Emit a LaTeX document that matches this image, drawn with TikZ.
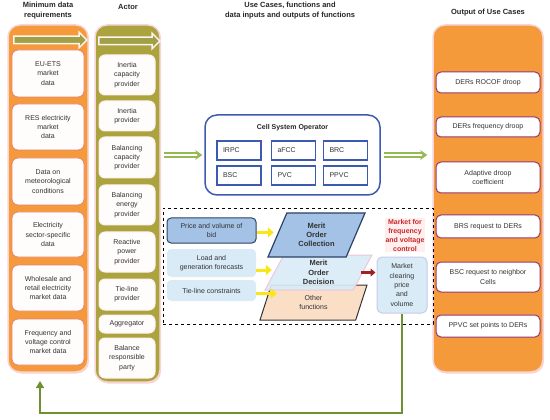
\documentclass[tikz,border=0pt]{standalone}
\usepackage{fontspec}
\setmainfont{Liberation Sans}
\usetikzlibrary{arrows.meta, positioning, shapes.geometric, shapes.arrows, shadows}
\definecolor{laranjaColuna}{RGB}{245,154,58}
\definecolor{oliveColuna}{RGB}{170,163,62}
\definecolor{oliveSeta}{RGB}{160,160,70}
\definecolor{rosaBorda}{RGB}{248,212,214}
\definecolor{rosaCaixa}{RGB}{232,128,118}
\definecolor{magentaCaixa}{RGB}{150,55,110}
\definecolor{azulOperador}{RGB}{60,90,175}
\definecolor{azulEscuro}{RGB}{45,65,100}
\definecolor{azulMedio}{RGB}{163,194,230}
\definecolor{azulClaro}{RGB}{217,235,246}
\definecolor{pessego}{RGB}{250,222,198}
\definecolor{verdeFluxo}{RGB}{150,185,85}
\definecolor{verdeEscuro}{RGB}{112,145,50}
\definecolor{vermelhoMercado}{RGB}{200,40,40}
\definecolor{amareloSeta}{RGB}{250,230,20}

\begin{document}
\begin{tikzpicture}[
    x=1pt, y=-1pt,
    txt/.style={font=\fontsize{7}{9.3}\selectfont, text=black!80, align=center, inner sep=0pt},
    title/.style={font=\fontsize{7.5}{10}\selectfont\bfseries, text=black!85, align=center, inner sep=0pt},
    column/.style={draw=rosaBorda, line width=1.5pt, rounded corners=12pt, drop shadow={shadow xshift=1pt, shadow yshift=-1.5pt, fill=rosaBorda!80!orange, opacity=0.7}},
    hdrarrow/.style={single arrow, draw=white!80!pink, line width=1.5pt, fill=oliveSeta, inner sep=3pt, single arrow head extend=4pt},
    databox/.style={txt, draw=rosaCaixa, fill=white!95!pink, line width=0.8pt, rounded corners=6pt, minimum width=72pt},
    actorbox/.style={txt, draw=white!75!pink, fill=white!95!pink, line width=1pt, rounded corners=6pt, minimum width=56pt},
    outbox/.style={txt, draw=magentaCaixa, fill=white, line width=1pt, rounded corners=5pt, minimum width=104pt},
    func/.style={txt, draw=azulOperador, fill=white, line width=1.5pt, minimum width=44pt, minimum height=19pt, text width=32pt, align=left},
    inbox/.style={txt, fill=azulClaro, rounded corners=4pt, minimum width=89pt},
    para/.style={txt, trapezium, trapezium stretches body=true, trapezium left angle=52, trapezium right angle=128},
    flow/.style={draw=verdeFluxo, line width=1.5pt, double=white, double distance=2.5pt, -{Stealth[length=7pt, width=10pt]}},
    yarrow/.style={draw=amareloSeta, line width=3pt, -{Triangle[length=6pt, width=10pt]}},
    redarrow/.style={draw=vermelhoMercado!80!black, line width=2.5pt, -{Triangle[length=5pt, width=8pt]}},
    feedback/.style={draw=verdeEscuro, line width=1.5pt, -{Triangle[length=7pt, width=8pt]}}
]
    \useasboundingbox (0,0) rectangle (550,420);

    % Titulos
    \node[title] (datatitle) at (48,11) {Minimum data\\requirements};
    \node[title] (actortitle) at (128,7) {Actor};
    \node[title] (ucttitle) at (290,11) {Use Cases, functions and\\data inputs and outputs of functions};
    \node[title] (outtitle) at (488,13) {Output of Use Cases};

    % Colunas
    \node[column, fill=laranjaColuna, minimum width=80pt, minimum height=347pt] (datacol) at (48,198.5) {};
    \node[column, fill=oliveColuna, minimum width=65pt, minimum height=357pt] (actorcol) at (127.5,203.5) {};
    \node[column, fill=laranjaColuna, minimum width=110pt, minimum height=347pt] (outcol) at (488,198.5) {};
    \node[hdrarrow, minimum height=73pt] (datahdr) at (48.5,40) {};
    \node[hdrarrow, minimum height=61pt] (actorhdr) at (127.5,41) {};

    % Dados
    \node[databox, minimum height=47pt] (euets) at (48,73.5) {EU-ETS\\market\\data};
    \node[databox, minimum height=46pt] (res) at (48,127) {RES electricity\\market\\data};
    \node[databox, minimum height=47pt] (meteo) at (48,181.5) {Data on\\meteorological\\conditions};
    \node[databox, minimum height=45pt] (sector) at (48,234.5) {Electricity\\sector-specific\\data};
    \node[databox, minimum height=46pt] (wholesale) at (48,288) {Wholesale and\\retail electricity\\market data};
    \node[databox, minimum height=46pt] (fvmarket) at (48,342) {Frequency and\\voltage control\\market data};

    % Atores
    \node[actorbox, minimum height=40pt] (inertiacap) at (127,75) {Inertia\\capacity\\provider};
    \node[actorbox, minimum height=30pt] (inertia) at (127,116) {Inertia\\provider};
    \node[actorbox, minimum height=41pt] (balcap) at (127,157.5) {Balancing\\capacity\\provider};
    \node[actorbox, minimum height=40pt] (balenergy) at (127,205) {Balancing\\energy\\provider};
    \node[actorbox, minimum height=40pt] (reactive) at (127,252) {Reactive\\power\\provider};
    \node[actorbox, minimum height=31pt] (tieline) at (127,294.5) {Tie-line\\provider};
    \node[actorbox, minimum height=18pt] (aggregator) at (127,324) {Aggregator};
    \node[actorbox, minimum height=40pt] (brp) at (127,358) {Balance\\responsible\\party};

    % Saidas
    \node[outbox, minimum height=21pt] (rocof) at (488,82.5) {DERs ROCOF droop};
    \node[outbox, minimum height=20pt] (freqdroop) at (488,127) {DERs frequency droop};
    \node[outbox, minimum height=31pt] (adaptive) at (488,177.5) {Adaptive droop\\coefficient};
    \node[outbox, minimum height=23pt] (brsreq) at (488,226.5) {BRS request to DERs};
    \node[outbox, minimum height=30pt] (bscreq) at (488,277) {BSC request to neighbor\\Cells};
    \node[outbox, minimum height=22pt] (ppvcset) at (488,326) {PPVC set points to DERs};

    % Operador da celula
    \node[draw=azulOperador, line width=1.5pt, rounded corners=12pt, fill=white, minimum width=175pt, minimum height=80pt] (cso) at (292.5,155) {};
    \node[title, font=\fontsize{7}{9}\selectfont\bfseries] (csotitle) at (292.5,128) {Cell System Operator};
    \node[func] (irpc) at (239,150.5) {IRPC};
    \node[func] (afcc) at (293.5,150.5) {aFCC};
    \node[func] (brc) at (345.5,150.5) {BRC};
    \node[func] (bsc) at (239,175.5) {BSC};
    \node[func] (pvc) at (293.5,175.5) {PVC};
    \node[func] (ppvc) at (345.5,175.5) {PPVC};

    \draw[flow, shorten <=3pt, shorten >=2pt] (actorcol.east |- cso.west) -- (cso.west);
    \draw[flow, shorten <=3pt, shorten >=5pt] (cso.east) -- (cso.east -| outcol.west);

    % Mercado
    \node[draw, dashed, thick, minimum width=270pt, minimum height=116pt] (mktarea) at (298,266) {};
    \node[inbox, fill=azulMedio, draw=azulEscuro, line width=1pt, minimum height=25pt] (price) at (211.5,230.5) {Price and volume of\\bid};
    \node[inbox, minimum height=28pt] (load) at (211.5,263) {Load and\\generation forecasts};
    \node[inbox, minimum height=21pt] (tie) at (211.5,290.5) {Tie-line constraints};

    \node[para, fill=pessego, draw=black!80, line width=1pt, minimum width=107pt, minimum height=35pt] (other) at (313.5,302.5) {Other\\functions};
    \node[para, fill=azulClaro, fill opacity=0.92, text opacity=1, draw=pink!60!violet!40, line width=1pt, minimum width=107pt, minimum height=35pt, font=\fontsize{7.5}{9.3}\selectfont\bfseries] (mod) at (318.5,272.5) {Merit\\Order\\Decision};
    \node[para, fill=azulMedio, draw=azulEscuro, line width=1.2pt, minimum width=97pt, minimum height=44pt, font=\fontsize{7.5}{9.3}\selectfont\bfseries] (moc) at (316.5,235) {Merit\\Order\\Collection};

    \draw[yarrow, shorten >=3pt] ([yshift=-2pt]price.east) -- ([yshift=-2pt]price.east -| moc.west);
    \draw[yarrow, shorten >=2pt] ([yshift=-7pt]load.east) -- ([yshift=-7pt]load.east -| mod.west);
    \draw[yarrow, shorten >=-3pt] ([yshift=-3pt]tie.east) -- ([yshift=-3pt]tie.east -| mod.west);

    \node[txt, font=\fontsize{7}{9}\selectfont\bfseries, text=vermelhoMercado, fill=pink!25, inner sep=1pt] (mktlabel) at (405,235) {Market for\\frequency\\and voltage\\control};
    \node[txt, fill=azulClaro, draw=azulOperador!30, line width=1pt, rounded corners=5pt, minimum width=50pt, minimum height=56pt] (clear) at (402,285) {Market\\clearing\\price\\and\\volume};

    \draw[redarrow, shorten <=-2pt, shorten >=1pt] (mod.east) -- (mod.east -| clear.west);

    % Retorno
    \coordinate (fbtip) at (40,381);
    \draw[feedback] (clear.south) -- (clear.south |- 0,413) -| (fbtip);
\end{tikzpicture}
\end{document}
